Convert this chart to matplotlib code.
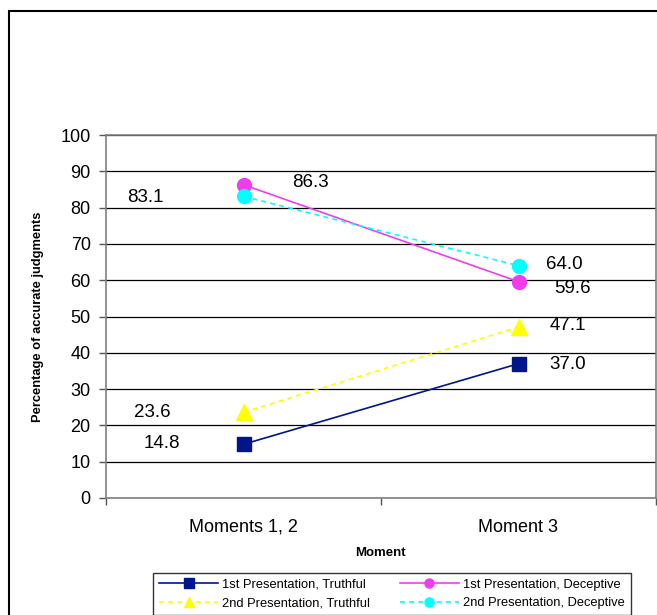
import matplotlib
matplotlib.use("Agg")
import matplotlib.pyplot as plt
from matplotlib.patches import Rectangle

plt.rcParams['font.family'] = ['Liberation Sans', 'DejaVu Sans']

categories = ["Moments 1, 2", "Moment 3"]
series_names = ["1st Presentation, Truthful", "1st Presentation, Deceptive",
                "2nd Presentation, Truthful", "2nd Presentation, Deceptive"]
first_truthful = [14.8, 37.0]
first_deceptive = [86.3, 59.6]
second_truthful = [23.6, 47.1]
second_deceptive = [83.1, 64.0]
y_ticks = list(range(0, 101, 10))

fig = plt.figure(figsize=(6.57, 6.15), dpi=100)
ax = fig.add_axes([106/657, 1-498/615, 550/657, 363/615])

xs = [0.5, 1.5]
styles = [
    (first_truthful, dict(color='#00148C', marker='s', markersize=10.5, linestyle='-', lw=1.2)),
    (first_deceptive, dict(color='#F03CF0', marker='o', markersize=10, linestyle='-', lw=1.2)),
    (second_truthful, dict(color='#FFFF00', marker='^', markersize=11, linestyle='--', lw=1.2, dashes=(3, 2.5))),
    (second_deceptive, dict(color='#00FFFF', marker='o', markersize=10, linestyle='--', lw=1.2, dashes=(3, 2.5))),
]
handles = []
for (vals, st), name in zip(styles, series_names):
    h, = ax.plot(xs, vals, label=name, markeredgecolor=st['color'], zorder=3, **st)
    handles.append(h)

# data labels (offsets in pixels)
label_offsets = {
    0: [(-82, 1), (49, -1)],
    1: [(67, 2), (54, -7)],
    2: [(-91, 0), (49, 2)],
    3: [(-98, -1), (46, 1)],
}
for i, (vals, st) in enumerate(styles):
    for j, v in enumerate(vals):
        dx, dy = label_offsets[i][j]
        ax.annotate(f"{v:.1f}", (xs[j], v), xytext=(dx, dy), textcoords='offset pixels',
                    ha='center', va='center', fontsize=13.5, color='black')

ax.set_xlim(0, 2)
ax.set_ylim(0, 100)
ax.set_yticks(y_ticks)
ax.set_yticklabels([str(t) for t in y_ticks], fontsize=13)
ax.yaxis.grid(True, color='black', lw=0.9)
ax.set_axisbelow(True)
ax.tick_params(axis='y', direction='out', length=5, width=1, color='#555555', pad=6)

ax.set_xticks([0, 1, 2])
ax.set_xticklabels(['', '', ''])
ax.set_xticks(xs, minor=True)
ax.set_xticklabels(categories, minor=True, fontsize=13)
ax.tick_params(axis='x', which='major', direction='out', length=5, width=1, color='#555555')
ax.tick_params(axis='x', which='minor', length=0, pad=15)

for s in ax.spines.values():
    s.set_color('#808080')
    s.set_linewidth(1.2)

ax.set_ylabel("Percentage of accurate judgments", fontsize=9.3, fontweight='bold')
ax.yaxis.set_label_coords(-0.112, 0.5)
fig.text(380/657, 1-553/615, "Moment", fontsize=9.5, fontweight='bold', ha='center', va='center')

order = [0, 2, 1, 3]
leg = fig.legend([handles[k] for k in order], [series_names[k] for k in order],
                 loc='upper left', bbox_to_anchor=(153/657, 1-573/615), ncol=2,
                 fontsize=9.3, frameon=True, fancybox=False, edgecolor='black',
                 handlelength=4.6, columnspacing=2.3, handletextpad=0.3, markerscale=0.65,
                 borderpad=0.45, labelspacing=0.5, borderaxespad=0)
leg.get_frame().set_linewidth(1.0)

fig.patches.append(Rectangle((9/657, -0.1), 1.0, (1-11/615) + 0.1, transform=fig.transFigure,
                             fill=False, edgecolor='black', lw=1.5))

fig.savefig("out.png", dpi=100)
